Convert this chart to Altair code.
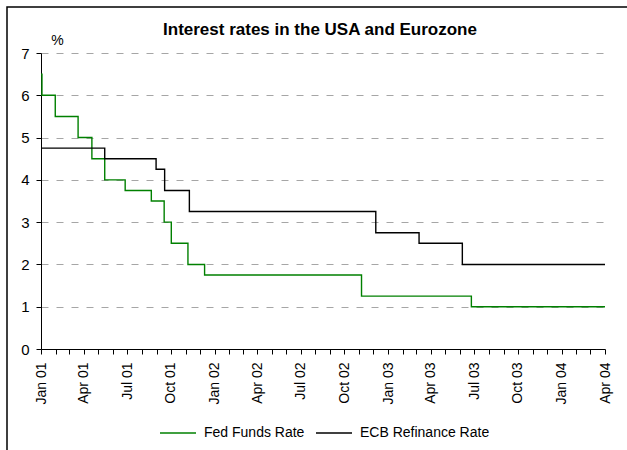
import altair as alt
import pandas as pd

# Policy rate steps: date the new rate took effect, and the rate (%)
fed_dates = ["2001-01-01", "2001-01-03", "2001-01-31", "2001-03-20", "2001-04-18",
             "2001-05-15", "2001-06-27", "2001-08-21", "2001-09-17", "2001-10-02",
             "2001-11-06", "2001-12-11", "2002-11-06", "2003-06-25", "2004-04-01"]
fed_rates = [6.5, 6.0, 5.5, 5.0, 4.5, 4.0, 3.75, 3.5, 3.0, 2.5, 2.0, 1.75, 1.25, 1.0, 1.0]

ecb_dates = ["2001-01-01", "2001-05-15", "2001-08-31", "2001-09-18", "2001-11-09",
             "2002-12-06", "2003-03-07", "2003-06-06", "2004-04-01"]
ecb_rates = [4.75, 4.5, 4.25, 3.75, 3.25, 2.75, 2.5, 2.0, 2.0]

series_names = ["Fed Funds Rate", "ECB Refinance Rate"]
series_colors = ["#008000", "#000000"]
y_ticks = [0, 1, 2, 3, 4, 5, 6, 7]

FONT = "Liberation Sans"

rates = pd.DataFrame({
    "date": fed_dates + ecb_dates,
    "rate": fed_rates + ecb_rates,
    "series": [series_names[0]] * len(fed_dates) + [series_names[1]] * len(ecb_dates),
})

# one tick per month, Jan 2001 .. Apr 2004
month_ticks = [alt.DateTime(year=2001 + i // 12, month=i % 12 + 1, date=1, utc=True)
               for i in range(40)]
x_start = alt.DateTime(year=2001, month=1, date=1, utc=True)
x_end = alt.DateTime(year=2004, month=4, date=1, utc=True)

lines = alt.Chart(rates).mark_line(interpolate="step-after", strokeWidth=1.4).encode(
    x=alt.X("date:T",
            scale=alt.Scale(type="utc", domain=[x_start, x_end], nice=False),
            axis=alt.Axis(values=month_ticks,
                          labelExpr="utcmonth(datum.value) % 3 == 0 ? utcFormat(datum.value, '%b %y') : ''",
                          labelAngle=270, labelPadding=8, labelOverlap=False,
                          labelFlush=False, tickSize=5, grid=False, title=None,
                          labelFontSize=14, labelColor="black",
                          domainColor="black", tickColor="black", zindex=1)),
    y=alt.Y("rate:Q",
            scale=alt.Scale(domain=[0, 7], nice=False, zero=True),
            axis=alt.Axis(values=y_ticks, format="d", title="%",
                          titleAngle=0, titleX=16, titleY=-13,
                          titleAlign="center", titleBaseline="middle",
                          titleFontWeight="normal", titleFontSize=14, titleColor="black",
                          grid=True, gridDash=[7, 8], gridColor="#a6a6a6", gridWidth=1,
                          tickSize=5, labelPadding=7, labelFontSize=15,
                          labelColor="black", domainColor="black", tickColor="black")),
    color=alt.Color("series:N",
                    scale=alt.Scale(domain=series_names, range=series_colors),
                    legend=alt.Legend(orient="none", legendX=118, legendY=361,
                                      direction="horizontal", title=None,
                                      symbolType="stroke", symbolSize=1300,
                                      symbolStrokeWidth=1.5, labelFontSize=14,
                                      labelColor="black", labelOffset=7,
                                      columnPadding=7)),
)

# outer frame of the figure
frame = alt.Chart(pd.DataFrame({"k": [0]})).mark_rect(
    fillOpacity=0, stroke="black", strokeWidth=1.5
).encode(
    x=alt.value(-34), x2=alt.value(640),
    y=alt.value(-46), y2=alt.value(450),
)

chart = alt.layer(frame, lines).properties(
    width=564, height=296,
    padding={"left": 41, "top": 53, "right": 22, "bottom": 101},
    autosize=alt.AutoSizeParams(type="none"),
    title=alt.TitleParams("Interest rates in the USA and Eurozone",
                          font=FONT, fontSize=17, fontWeight="bold",
                          anchor="middle", color="black", dy=37, dx=-3),
).configure(font=FONT).configure_view(stroke=None)

chart.save("out.html", embed_options={"renderer": "svg", "actions": False})
